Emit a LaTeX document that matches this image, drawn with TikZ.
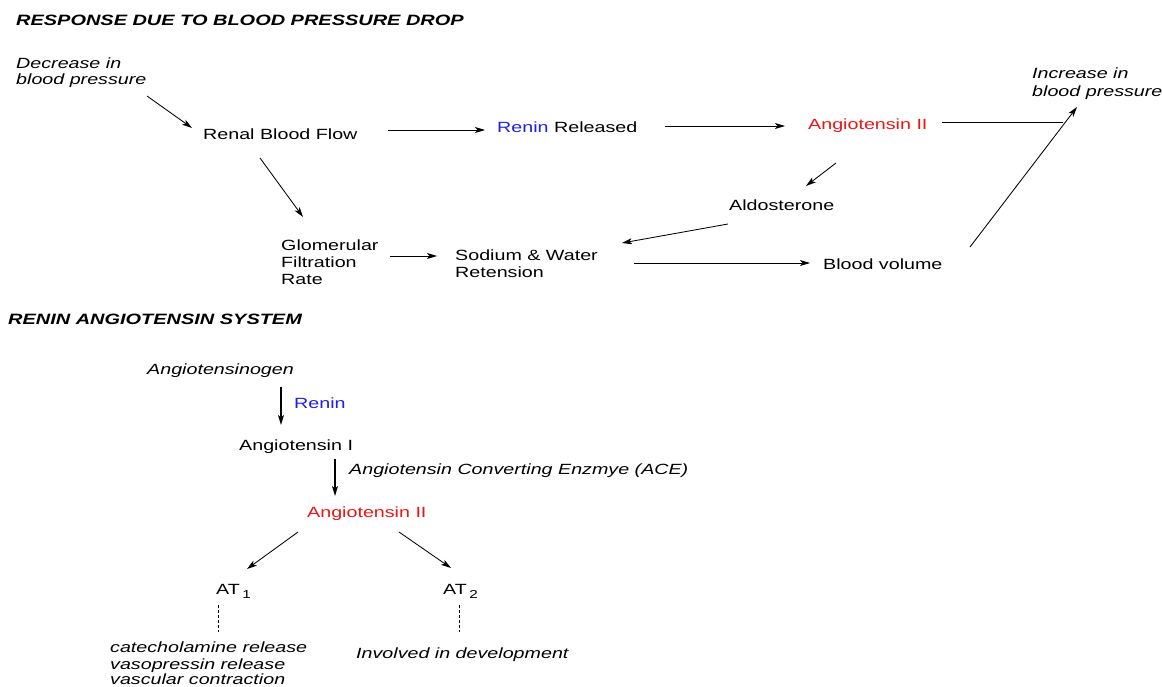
\documentclass[tikz,border=0pt]{standalone}
\usepackage{fontspec}
\setmainfont{Liberation Sans}[FakeStretch=1.33]
\usetikzlibrary{arrows.meta}
\definecolor{rblue}{RGB}{30,30,235}
\definecolor{rred}{RGB}{238,20,20}
\tikzset{
  txt/.style={anchor=base west, inner sep=0pt, font=\fontsize{14.8}{16.5}\selectfont},
  itxt/.style={txt, font=\fontsize{14.8}{16.5}\selectfont\itshape},
  ttl/.style={txt, font=\fontsize{15}{16.5}\selectfont\bfseries\itshape},
  arr/.style={line width=0.85pt, -{Stealth[length=10pt,width=6pt,inset=2.5pt]}},
  varr/.style={line width=1.3pt, -{Stealth[length=10pt,width=6pt,inset=2.5pt]}},
  ln/.style={line width=0.85pt},
  dsh/.style={line width=0.85pt, dash pattern=on 3pt off 2pt}
}
\newcommand{\subn}[1]{\,\raisebox{-3.5pt}{\fontsize{11.5}{11.5}\selectfont #1}}
\begin{document}
\begin{tikzpicture}[x=1pt,y=-1pt]
\useasboundingbox (0,0) rectangle (1162,687);
% ---- top section
\node[ttl] (t1) at (16,25.5) {RESPONSE DUE TO BLOOD PRESSURE DROP};
\node[itxt] (dec1) at (16,68.5) {Decrease in};
\node[itxt] (dec2) at (16,84.5) {blood pressure};
\node[txt] (rbf) at (203,139.5) {Renal Blood Flow};
\node[txt] (rr) at (497,132.5) {\textcolor{rblue}{Renin} Released};
\node[txt,text=rred] (a2t) at (808,129.5) {Angiotensin II};
\node[itxt] (inc1) at (1032,78.5) {Increase in};
\node[itxt] (inc2) at (1032,96.5) {blood pressure};
\node[txt] (ald) at (729,210.5) {Aldosterone};
\node[txt] (gl1) at (281,250.5) {Glomerular};
\node[txt] (gl2) at (281,267.5) {Filtration};
\node[txt] (gl3) at (281,284.5) {Rate};
\node[txt] (sw1) at (455,260.5) {Sodium \& Water};
\node[txt] (sw2) at (455,277.5) {Retension};
\node[txt] (bv) at (823,269.5) {Blood volume};
% top connectors
\draw[arr] ([shift={(131,11.5)}]dec2.base west) -- ([shift={(-11,-11.5)}]rbf.base west);
\draw[arr] ([shift={(57,18.5)}]rbf.base west) -- ([shift={(22,-33.5)}]gl1.base west);
\draw[arr] ([shift={(185,-9.5)}]rbf.base west) -- ([shift={(-12,-2.5)}]rr.base west);
\draw[arr] ([shift={(168,-6.5)}]rr.base west) -- ([shift={(-23,-3.5)}]a2t.base west);
\draw[ln] ([shift={(134,-7.5)}]a2t.base west) -- ([shift={(255,-7.5)}]a2t.base west);
\draw[arr] ([shift={(28,33.5)}]a2t.base west) -- ([shift={(77,-24.5)}]ald.base west);
\draw[arr] ([shift={(-1,13.5)}]ald.base west) -- ([shift={(167,-17.5)}]sw1.base west);
\draw[arr] ([shift={(109,-11.5)}]gl2.base west) -- ([shift={(-18,-4.5)}]sw1.base west);
\draw[arr] ([shift={(179,2.5)}]sw1.base west) -- ([shift={(-13,-6.5)}]bv.base west);
\draw[arr] ([shift={(147,-22.5)}]bv.base west) -- ([shift={(45,10.5)}]inc2.base west);
% ---- bottom section
\node[ttl] (t2) at (8,324.5) {RENIN ANGIOTENSIN SYSTEM};
\node[itxt] (agn) at (147,374.5) {Angiotensinogen};
\node[txt,text=rblue] (ren) at (294,408.5) {Renin};
\node[txt] (a1) at (239,450.5) {Angiotensin I};
\node[itxt] (ace) at (349,474.5) {Angiotensin Converting Enzmye (ACE)};
\node[txt,text=rred] (a2b) at (307,517.5) {Angiotensin II};
\node[txt] (at1) at (216,594.5) {AT\subn{1}};
\node[txt] (at2) at (443,594.5) {AT\subn{2}};
\node[itxt] (c1) at (110,652.5) {catecholamine release};
\node[itxt] (c2) at (110,669) {vasopressin release};
\node[itxt] (c3) at (110,684.5) {vascular contraction};
\node[itxt] (inv) at (356,658.5) {Involved in development};
% bottom connectors
\draw[varr] ([shift={(134,12.5)}]agn.base west) -- ([shift={(42,-25.5)}]a1.base west);
\draw[varr] ([shift={(96,8.5)}]a1.base west) -- ([shift={(28,-21.5)}]a2b.base west);
\draw[arr] ([shift={(-9,14.5)}]a2b.base west) -- ([shift={(31,-25.5)}]at1.base west);
\draw[arr] ([shift={(92,14.5)}]a2b.base west) -- ([shift={(8,-26.5)}]at2.base west);
\draw[dsh] ([shift={(2,10.5)}]at1.base west) -- ([shift={(108,-20.5)}]c1.base west);
\draw[dsh] ([shift={(16,10.5)}]at2.base west) -- ([shift={(103,-26.5)}]inv.base west);
\end{tikzpicture}
\end{document}
